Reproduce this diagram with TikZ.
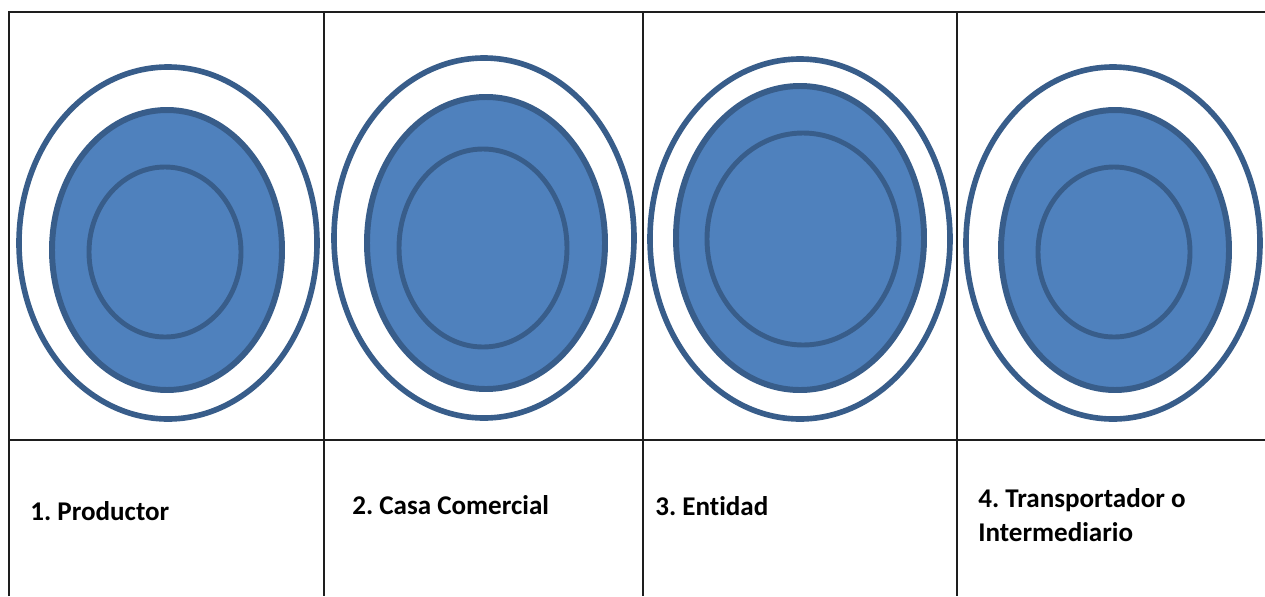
\documentclass[tikz,border=0pt]{standalone}
\usepackage{fontspec}
\setmainfont{Carlito}[Ligatures=NoCommon]
\frenchspacing
\usepackage{tikz}
\usetikzlibrary{positioning}
\definecolor{ringfill}{RGB}{79,129,189}
\definecolor{ringedge}{RGB}{56,93,138}
\definecolor{grid}{RGB}{30,30,30}
\tikzset{
  tabline/.style={grid, line width=1.1pt},
  outring/.style={ringedge, line width=3.2pt},
  midring/.style={fill=ringfill, draw=ringedge, line width=3.4pt},
  inring/.style={draw=ringedge, line width=2.8pt},
  cell/.style={font=\bfseries\fontsize{15.4}{18}\selectfont, inner sep=0pt, anchor=base west}
}

\begin{document}
\begin{tikzpicture}[x=0.02cm, y=-0.02cm]
  \useasboundingbox (0,0) rectangle (1265,596);

  % ---------- table frame ----------
  \draw[tabline] (9,596) -- (9,12) -- (1265,12);
  \draw[tabline] (9,440) -- (1265,440);
  \foreach \x in {324,643,957}{
    \draw[tabline] (\x,12) -- (\x,596);
  }

  % ---------- rings (outer ring, filled disc, inner ring) ----------
  \foreach \cx/\cy/\rx/\ry in {168/243/149/176, 484/238/150/180, 800/239/150/180, 1113/243/147/176}{
    \draw[outring] (\cx,\cy) ellipse ({\rx} and {\ry});
  }
  \foreach \cx/\cy/\rx/\ry in {167/250/115/140, 486/243/119/146, 800/238/124/152, 1115/250/114/140}{
    \draw[midring] (\cx,\cy) ellipse ({\rx} and {\ry});
  }
  \foreach \cx/\cy/\rx/\ry in {165/252/76/85, 483/248/84/99, 803/239/96/106, 1114/252/76/85}{
    \draw[inring] (\cx,\cy) ellipse ({\rx} and {\ry});
  }

  % ---------- labels ----------
  \node[cell] (prod) at (30,520) {1. Productor};
  \node[cell] (casa) at (352,514) {2. Casa Comercial};
  \node[cell] (ent) at (655,515) {3. Entidad};
  \node[cell] (trans) at (978,507) {4. Transportador o};
  \node[cell] (inter) at (978,541) {Intermediario};

\end{tikzpicture}
\end{document}
